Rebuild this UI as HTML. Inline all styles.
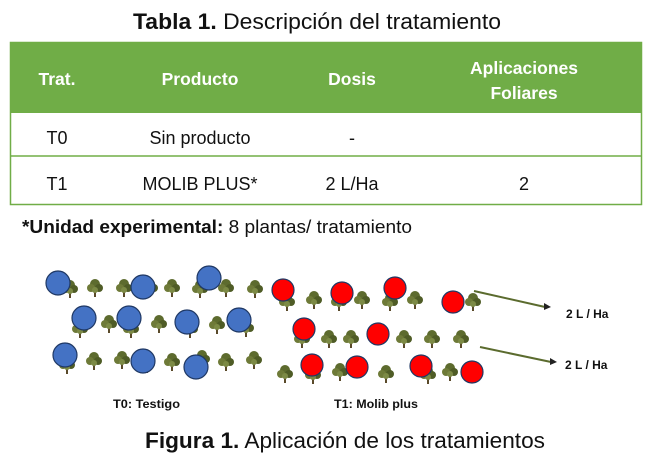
<!DOCTYPE html>
<html><head><meta charset="utf-8"><style>
body{margin:0;background:#fff;width:650px;height:454px;overflow:hidden;font-family:"Liberation Sans",sans-serif}
</style></head><body>
<svg width="650" height="454" xmlns="http://www.w3.org/2000/svg" font-family="Liberation Sans, sans-serif">
<defs>
<g id="t">
<rect x="-1" y="2" width="2" height="9" fill="#5a4a2a"/>
<circle cx="0" cy="-2" r="5" fill="#5d6b2e"/>
<circle cx="-4" cy="2" r="4" fill="#6e7a38"/>
<circle cx="4" cy="2" r="4" fill="#4f5c26"/>
<circle cx="0" cy="4" r="3" fill="#7c8a45"/>
</g>
</defs>
<text x="317" y="29" text-anchor="middle" font-size="22" fill="#111" textLength="368" lengthAdjust="spacingAndGlyphs"><tspan font-weight="bold">Tabla 1.</tspan> Descripción del tratamiento</text>
<rect x="10" y="42" width="632" height="71" fill="#70ad47"/>
<rect x="10.5" y="42.5" width="631" height="162" fill="none" stroke="#70ad47" stroke-width="1.5"/>
<line x1="10" y1="156" x2="642" y2="156" stroke="#70ad47" stroke-width="1.5"/>
<g font-size="17.5" font-weight="bold" fill="#fff" text-anchor="middle">
<text x="57" y="85">Trat.</text><text x="200" y="85">Producto</text><text x="352" y="85">Dosis</text>
<text x="524" y="74">Aplicaciones</text><text x="524" y="99">Foliares</text></g>
<g font-size="18" fill="#111" text-anchor="middle">
<text x="57" y="144">T0</text><text x="200" y="144">Sin producto</text><text x="352" y="144">-</text>
<text x="57" y="190">T1</text><text x="200" y="190">MOLIB PLUS*</text><text x="352" y="190">2 L/Ha</text><text x="524" y="190">2</text></g>
<text x="22" y="233" font-size="18" fill="#111" textLength="390" lengthAdjust="spacingAndGlyphs"><tspan font-weight="bold">*Unidad experimental:</tspan> 8 plantas/ tratamiento</text>
<g>
<use href="#t" x="70" y="287"/><use href="#t" x="95" y="286"/><use href="#t" x="124" y="286"/><use href="#t" x="150" y="286"/><use href="#t" x="172" y="286"/><use href="#t" x="200" y="287"/><use href="#t" x="226" y="286"/><use href="#t" x="255" y="287"/>
<use href="#t" x="80" y="327"/><use href="#t" x="109" y="322"/><use href="#t" x="131" y="327"/><use href="#t" x="159" y="322"/><use href="#t" x="190" y="327"/><use href="#t" x="217" y="323"/><use href="#t" x="246" y="326"/>
<use href="#t" x="67" y="363"/><use href="#t" x="94" y="359"/><use href="#t" x="122" y="358"/><use href="#t" x="147" y="362"/><use href="#t" x="172" y="360"/><use href="#t" x="202" y="357"/><use href="#t" x="226" y="360"/><use href="#t" x="254" y="358"/>
<use href="#t" x="287" y="300"/><use href="#t" x="314" y="298"/><use href="#t" x="339" y="300"/><use href="#t" x="362" y="298"/><use href="#t" x="390" y="300"/><use href="#t" x="415" y="298"/><use href="#t" x="473" y="300"/>
<use href="#t" x="302" y="337"/><use href="#t" x="329" y="337"/><use href="#t" x="351" y="337"/><use href="#t" x="404" y="337"/><use href="#t" x="432" y="337"/><use href="#t" x="461" y="337"/>
<use href="#t" x="285" y="372"/><use href="#t" x="313" y="373"/><use href="#t" x="340" y="370"/><use href="#t" x="386" y="372"/><use href="#t" x="428" y="373"/><use href="#t" x="450" y="370"/>
</g>
<g fill="#4472c4" stroke="#1f3864" stroke-width="1.2">
<circle cx="58" cy="283" r="12"/><circle cx="143" cy="287" r="12"/><circle cx="209" cy="278" r="12"/>
<circle cx="84" cy="318" r="12"/><circle cx="129" cy="318" r="12"/><circle cx="187" cy="322" r="12"/><circle cx="239" cy="320" r="12"/>
<circle cx="65" cy="355" r="12"/><circle cx="143" cy="361" r="12"/><circle cx="196" cy="367" r="12"/></g>
<g fill="#ff0000" stroke="#1f3864" stroke-width="1.2">
<circle cx="283" cy="290" r="11"/><circle cx="342" cy="293" r="11"/><circle cx="395" cy="288" r="11"/><circle cx="453" cy="302" r="11"/>
<circle cx="304" cy="329" r="11"/><circle cx="378" cy="334" r="11"/>
<circle cx="312" cy="365" r="11"/><circle cx="357" cy="367" r="11"/><circle cx="421" cy="366" r="11"/><circle cx="472" cy="372" r="11"/></g>
<g stroke="#5b6b2e" stroke-width="2">
<line x1="474" y1="291" x2="545" y2="307"/><line x1="480" y1="347" x2="551" y2="362"/></g>
<g fill="#222"><polygon points="544,303 551,307 544,310"/><polygon points="550,358 557,362 550,365"/></g>
<g font-size="12" font-weight="bold" fill="#111">
<text x="566" y="318">2 L / Ha</text><text x="565" y="369">2 L / Ha</text>
<text x="113" y="408" textLength="67" lengthAdjust="spacingAndGlyphs">T0: Testigo</text><text x="334" y="408" textLength="84" lengthAdjust="spacingAndGlyphs">T1: Molib plus</text></g>
<text x="345" y="448" text-anchor="middle" font-size="22" fill="#111" textLength="400" lengthAdjust="spacingAndGlyphs"><tspan font-weight="bold">Figura 1.</tspan> Aplicación de los tratamientos</text>
</svg>
</body></html>
